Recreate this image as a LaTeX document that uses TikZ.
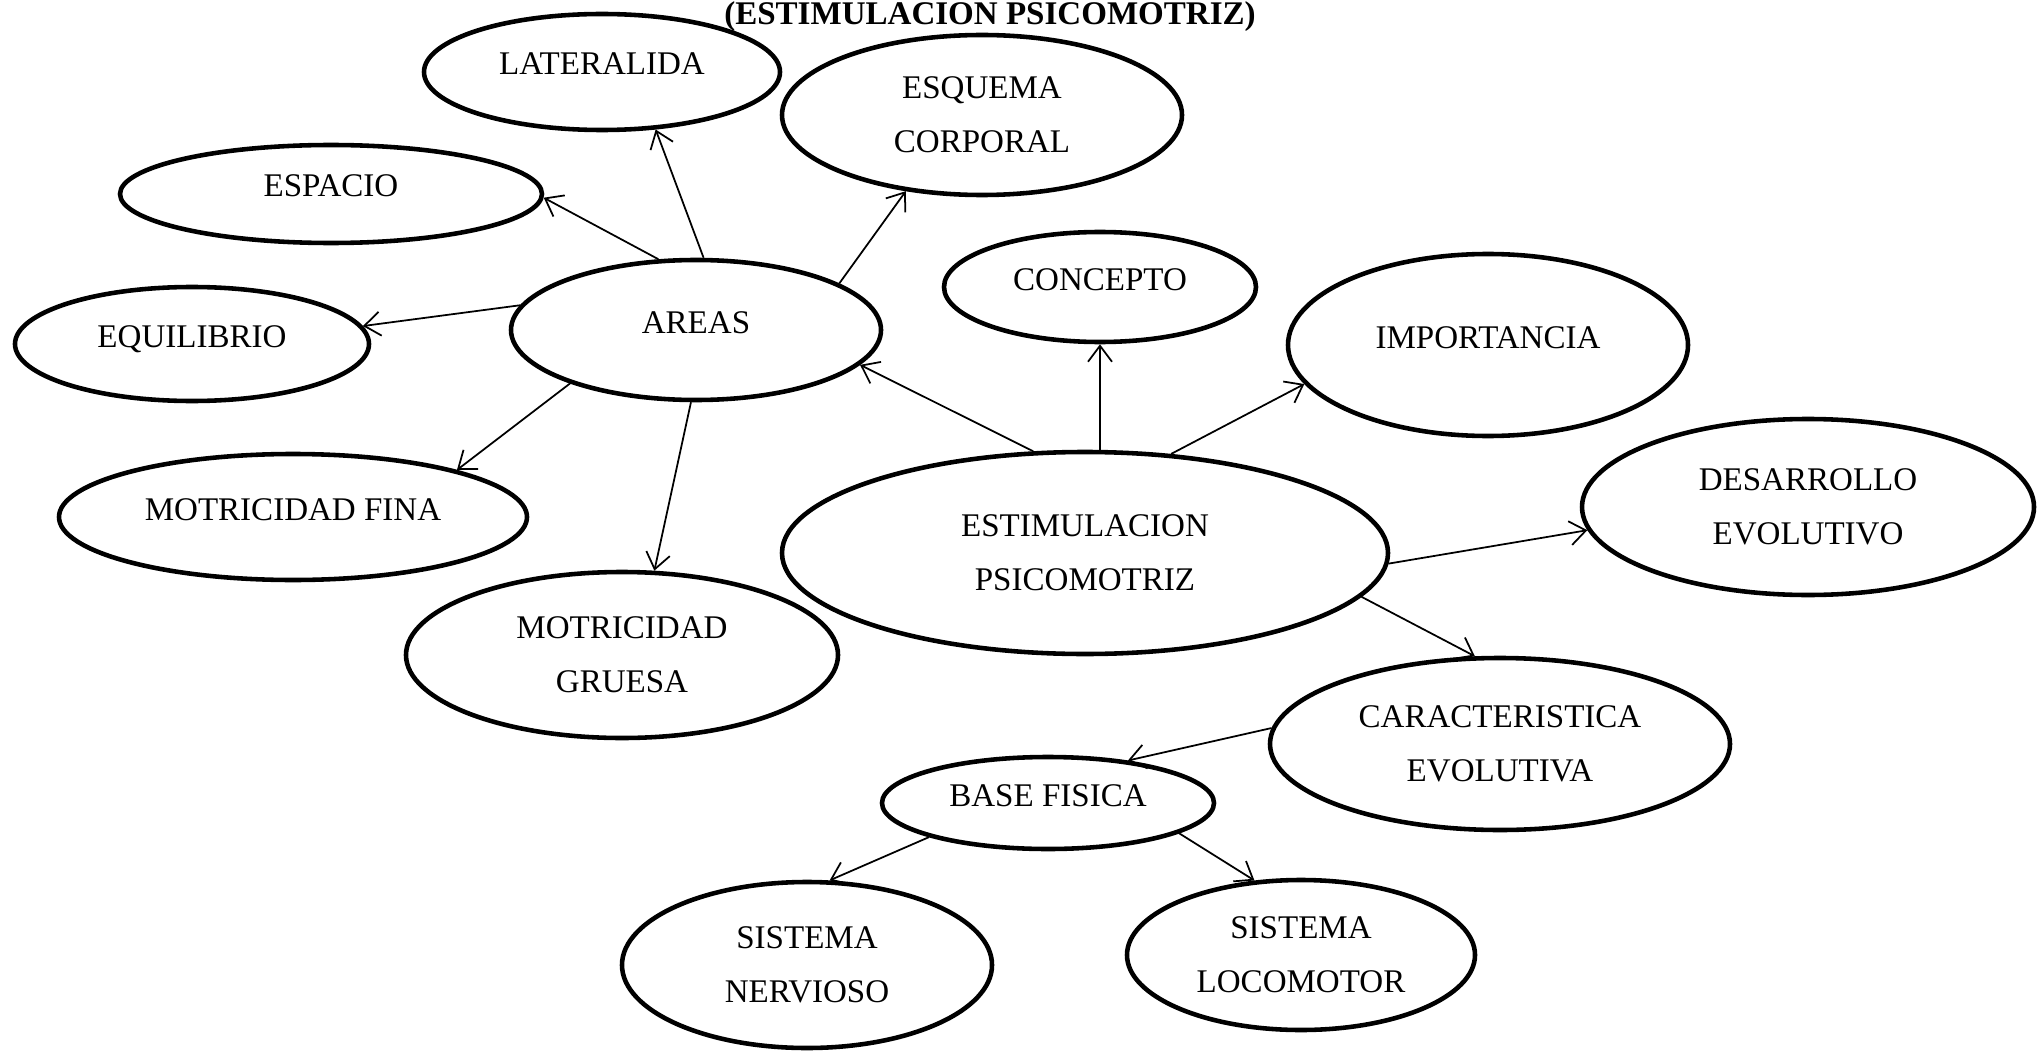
\documentclass[tikz,border=0pt]{standalone}
\usepackage{fontspec}
\setmainfont{Liberation Serif}
\usetikzlibrary{shapes.geometric,arrows.meta}
\tikzset{
  idea/.style={draw, ellipse, line width=1.3pt, inner sep=0pt, align=center,
    font=\fontsize{9.4}{15.3}\selectfont},
  oneline/.style={text height=2.2mm, text depth=1.6mm},
  link/.style={line width=0.5pt, -{Straight Barb[length=1.6mm,width=2.4mm]}},
}

\begin{document}
\begin{tikzpicture}
		%%%%% START %%%%%
		\useasboundingbox (0,0) rectangle (20.44,-10.51);
		
		\node[font=\bfseries\fontsize{9.4}{11}\selectfont, anchor=base] (title) at (9.90,-0.25) {(ESTIMULACION PSICOMOTRIZ)};
		
		% areas y sus ramas
		\node[idea, oneline, minimum width=3.70cm, minimum height=1.40cm] (areas) at (6.96,-3.30) {AREAS};
		\node[idea, oneline, minimum width=3.56cm, minimum height=1.16cm] (lat) at (6.02,-0.72) {LATERALIDA};
		\node[idea, minimum width=4.00cm, minimum height=1.60cm] (esq) at (9.82,-1.15) {ESQUEMA\\CORPORAL};
		\node[idea, oneline, minimum width=4.22cm, minimum height=0.98cm] (esp) at (3.31,-1.94) {ESPACIO};
		\node[idea, oneline, minimum width=3.54cm, minimum height=1.14cm] (equi) at (1.92,-3.44) {EQUILIBRIO};
		\node[idea, oneline, minimum width=4.68cm, minimum height=1.26cm] (fina) at (2.93,-5.17) {MOTRICIDAD FINA};
		\node[idea, minimum width=4.32cm, minimum height=1.66cm] (gruesa) at (6.22,-6.55) {MOTRICIDAD\\GRUESA};
		
		% centro
		\node[idea, minimum width=6.06cm, minimum height=2.02cm] (estim) at (10.85,-5.53) {ESTIMULACION\\PSICOMOTRIZ};
		\node[idea, oneline, minimum width=3.12cm, minimum height=1.10cm] (concepto) at (11.00,-2.87) {CONCEPTO};
		\node[idea, oneline, minimum width=4.00cm, minimum height=1.82cm] (imp) at (14.88,-3.45) {IMPORTANCIA};
		\node[idea, minimum width=4.52cm, minimum height=1.76cm] (desa) at (18.08,-5.07) {DESARROLLO\\EVOLUTIVO};
		\node[idea, minimum width=4.60cm, minimum height=1.72cm] (caract) at (15.00,-7.44) {CARACTERISTICA\\EVOLUTIVA};
		
		% base fisica
		\node[idea, oneline, minimum width=3.32cm, minimum height=0.92cm] (base) at (10.48,-8.03) {BASE FISICA};
		\node[idea, minimum width=3.70cm, minimum height=1.66cm] (nerv) at (8.07,-9.65) {SISTEMA\\NERVIOSO};
		\node[idea, minimum width=3.48cm, minimum height=1.50cm] (loco) at (13.01,-9.55) {SISTEMA\\LOCOMOTOR};
		
		\draw[link] (areas.84) -- (lat.-47);
		\draw[link] (areas.118) -- (esp.-1);
		\draw[link] (areas.172) -- (equi.6);
		\draw[link] (areas.18) -- (esq.-135);
		\draw[link] (areas.-157) -- (fina.16);
		\draw[link] (areas.-94) -- (gruesa.69);
		
		\draw[link] (estim.117) -- (areas.-12);
		\draw[link] (concepto.south |- estim.north) -- (concepto.south);
		\draw[link] (estim.49) -- (imp.-168);
		\draw[link] (estim.-2) -- (desa.186);
		\draw[link] (estim.-9) -- (caract.106);
		
		\draw[link] (caract.176) -- (base.28);
		\draw[link] (base.-164) -- (nerv.75);
		\draw[link] (base.-13) -- (loco.122);
		
		%%%%% END %%%%%
\end{tikzpicture}
\end{document}
